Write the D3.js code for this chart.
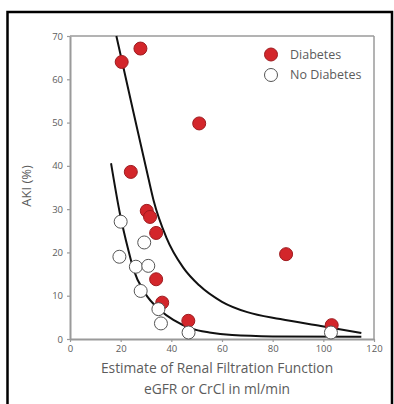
<!DOCTYPE html>
<html><head><meta charset="utf-8">
<script src="https://cdn.jsdelivr.net/npm/d3@7"></script>
<style>
html,body{margin:0;padding:0;background:#fff;}
svg{display:block;}
text{font-family:"Open Sans","Noto Sans",sans-serif;}
</style></head>
<body>
<svg id="chart" width="394" height="404"></svg>
<script>
// ---- data ----
const xTicks = [0, 20, 40, 60, 80, 100, 120];
const yTicks = [0, 10, 20, 30, 40, 50, 60, 70];
const seriesNames = ["Diabetes", "No Diabetes"];
const diabetesX = [20.4, 27.8, 51, 24, 30.3, 31.6, 34, 85.3, 34, 36.4, 46.7, 103.3];
const diabetesY = [64, 67.1, 49.8, 38.6, 29.6, 28.2, 24.5, 19.6, 13.8, 8.4, 4.2, 3.2];
const noDiabetesX = [20, 19.5, 26, 29.3, 30.9, 27.9, 34.9, 35.9, 46.8, 103];
const noDiabetesY = [27.1, 19, 16.7, 22.3, 16.9, 11.1, 6.9, 3.6, 1.5, 1.5];
const upperCurveX = [18.3, 25, 31, 33, 38, 44.7, 51, 60, 70, 83, 99, 115];
const upperCurveY = [70, 52.5, 37, 32, 23.5, 16.5, 12.4, 8.6, 6.2, 4.6, 3, 1.4];
const lowerCurveX = [16.2, 19.7, 23, 25, 29.6, 35.5, 40.8, 48, 55, 64, 80, 115];
const lowerCurveY = [40.6, 29, 20.6, 16.2, 10.6, 6.7, 4.4, 2.4, 1.5, 0.9, 0.6, 0.5];
const xTitle = ["Estimate of Renal Filtration Function", "eGFR or CrCl in ml/min"];
const yTitle = "AKI (%)";

// ---- drawing ----
(function () {
const svg = d3.select("#chart");
const mLeft = 70, mRight = 374, mTop = 36, mBottom = 339;
const x = d3.scaleLinear().domain([0, 120]).range([mLeft, mRight]);
const y = d3.scaleLinear().domain([0, 70]).range([mBottom, mTop]);

// outer border
svg.append("rect").attr("x", 7.5).attr("y", 12).attr("width", 384.5).attr("height", 400)
  .attr("fill", "none").attr("stroke", "#000").attr("stroke-width", 2.5);

const axisColor = "#9a9a9a";
const textColor = "#5c5c5c";

// frame (top and right)
svg.append("line").attr("x1", mLeft).attr("x2", mRight).attr("y1", mTop).attr("y2", mTop)
  .attr("stroke", axisColor).attr("stroke-width", 1.5);
svg.append("line").attr("x1", mRight).attr("x2", mRight).attr("y1", mTop).attr("y2", mBottom)
  .attr("stroke", axisColor).attr("stroke-width", 1.5);

const xAxis = svg.append("g").attr("transform", `translate(0,${mBottom})`)
  .call(d3.axisBottom(x).tickValues(xTicks).tickSize(3).tickPadding(3).tickSizeOuter(0));
const yAxis = svg.append("g").attr("transform", `translate(${mLeft},0)`)
  .call(d3.axisLeft(y).tickValues(yTicks).tickSize(3).tickPadding(4).tickSizeOuter(0));
[xAxis, yAxis].forEach(g => {
  g.select(".domain").attr("stroke", axisColor).attr("stroke-width", 2);
  g.selectAll(".tick line").attr("stroke", axisColor).attr("stroke-width", 1.2);
  g.selectAll(".tick text").attr("fill", textColor).style("font-size", "9.5px")
    .style("font-family", '"Open Sans", sans-serif');
});

// curves
const line = d3.line().x(d => x(d[0])).y(d => y(d[1])).curve(d3.curveMonotoneX);
const upper = upperCurveX.map((v, i) => [v, upperCurveY[i]]);
const lower = lowerCurveX.map((v, i) => [v, lowerCurveY[i]]);
[upper, lower].forEach(pts => {
  svg.append("path").attr("d", line(pts)).attr("fill", "none")
    .attr("stroke", "#111").attr("stroke-width", 2);
});

const r = 6.5;
const redFill = "#d3262b", redStroke = "#9e1b1f";
const whiteStroke = "#555";
svg.append("g").selectAll("circle").data(diabetesX.map((v, i) => [v, diabetesY[i]]))
  .join("circle").attr("cx", d => x(d[0])).attr("cy", d => y(d[1])).attr("r", r)
  .attr("fill", redFill).attr("stroke", redStroke).attr("stroke-width", 1);
svg.append("g").selectAll("circle").data(noDiabetesX.map((v, i) => [v, noDiabetesY[i]]))
  .join("circle").attr("cx", d => x(d[0])).attr("cy", d => y(d[1])).attr("r", r)
  .attr("fill", "#fff").attr("stroke", whiteStroke).attr("stroke-width", 1);

// legend
const legend = svg.append("g");
seriesNames.forEach((name, i) => {
  const cy = 54.5 + i * 20.5;
  legend.append("circle").attr("cx", 271).attr("cy", cy).attr("r", r)
    .attr("fill", i === 0 ? redFill : "#fff")
    .attr("stroke", i === 0 ? redStroke : whiteStroke).attr("stroke-width", 1);
  legend.append("text").attr("x", 290).attr("y", cy + 4).attr("fill", textColor)
    .style("font-size", "12.5px").text(name);
});

// titles
svg.append("text").attr("x", 217).attr("y", 373).attr("text-anchor", "middle")
  .attr("fill", textColor).style("font-size", "13.8px").text(xTitle[0]);
svg.append("text").attr("x", 217).attr("y", 394).attr("text-anchor", "middle")
  .attr("fill", textColor).style("font-size", "13.8px").text(xTitle[1]);
svg.append("text").attr("transform", "translate(31,186) rotate(-90)").attr("text-anchor", "middle")
  .attr("fill", textColor).style("font-size", "13px").text(yTitle);
})();
</script>
</body></html>
